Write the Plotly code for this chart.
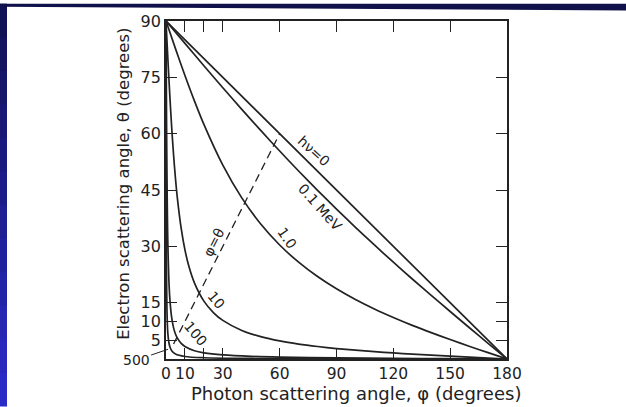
import plotly.graph_objects as go

# ---- data ----
phi_0 = [0, 180]
theta_0 = [90, 0]

phi_01 = [0, 10, 20, 30, 40, 50, 60, 70, 80, 90, 100, 110, 120, 130, 140, 150, 160, 170, 180]
theta_01 = [90, 84.03, 78.09, 72.24, 66.48, 60.86, 55.38, 50.06, 44.91, 39.91, 35.06, 30.36,
            25.78, 21.30, 16.93, 12.65, 8.39, 4.18, 0]

phi_1 = [0, 5, 10, 15, 20, 30, 40, 50, 60, 70, 80, 90, 100, 110, 120, 130, 140, 150, 160, 170, 180]
theta_1 = [90, 82.64, 75.50, 68.73, 62.46, 51.61, 42.90, 35.95, 30.36, 25.78, 21.95, 18.69,
           15.84, 13.32, 11.05, 8.96, 7.02, 5.18, 3.41, 1.69, 0]

phi_10 = [0, 0.5, 1, 2, 3, 4, 5, 6, 8, 10, 12, 15, 20, 25, 30, 40, 50, 60, 70, 80, 90, 100,
          110, 120, 130, 140, 150, 160, 170, 180]
theta_10 = [90, 84.87, 79.82, 70.25, 61.69, 54.31, 48.07, 42.85, 34.82, 29.06, 24.82, 20.27,
            15.41, 12.37, 10.28, 7.61, 5.95, 4.81, 3.97, 3.32, 2.78, 2.34, 1.95, 1.61, 1.30,
            1.01, 0.75, 0.49, 0.24, 0]

phi_100 = [0, 0.1, 0.2, 0.3, 0.5, 0.75, 1, 1.5, 2, 3, 4, 5, 6, 8, 10, 15, 20, 30, 45, 60, 90,
           120, 150, 180]
theta_100 = [90, 80.26, 71.05, 62.76, 49.36, 37.84, 30.22, 21.22, 16.24, 10.99, 8.28, 6.64,
             5.54, 4.16, 3.33, 2.21, 1.65, 1.09, 0.70, 0.50, 0.29, 0.17, 0.08, 0]

phi_500 = [0, 0.02, 0.05, 0.1, 0.2, 0.3, 0.5, 0.75, 1, 1.5, 2, 3, 5, 10, 20, 45, 90, 180]
theta_500 = [90, 80.30, 66.86, 49.47, 30.32, 21.30, 13.17, 8.87, 6.67, 4.46, 3.35, 2.23, 1.34,
             0.67, 0.33, 0.14, 0.06, 0]

phi_eq = [4, 60]
theta_eq = [4, 60]

x_ticks = [0, 10, 20, 30, 60, 90, 120, 150, 180]
x_labels = ["0", "10", "", "30", "60", "90", "120", "150", "180"]
y_ticks = [5, 10, 15, 30, 45, 60, 75, 90]
y_labels = ["5", "10", "15", "30", "45", "60", "75", "90"]

INK = "#222222"
FONT = "DejaVu Sans"

fig = go.Figure()
curves = [(phi_0, theta_0), (phi_01, theta_01), (phi_1, theta_1), (phi_10, theta_10),
          (phi_100, theta_100), (phi_500, theta_500)]
for px_, py_ in curves:
    fig.add_trace(go.Scatter(x=px_, y=py_, mode="lines",
                             line=dict(color=INK, width=1.7, shape="spline", smoothing=0.8),
                             hoverinfo="skip", showlegend=False))
fig.add_trace(go.Scatter(x=phi_eq, y=theta_eq, mode="lines",
                         line=dict(color=INK, width=1.3, dash="8px,5px"),
                         hoverinfo="skip", showlegend=False))

ann_font = dict(family=FONT, size=14, color=INK)
annotations = [
    dict(x=78, y=55.3, text="hν=0", textangle=42),
    dict(x=81.3, y=40.6, text="0.1 MeV", textangle=48),
    dict(x=63.9, y=32.2, text="1.0", textangle=55),
    dict(x=26.4, y=15.6, text="10", textangle=50),
    dict(x=15.8, y=6.6, text="100", textangle=50),
    dict(x=25.3, y=31.1, text="φ=θ", textangle=-63),
]
for a in annotations:
    fig.add_annotation(xref="x", yref="y", showarrow=False, font=ann_font,
                       xanchor="center", yanchor="middle", **a)

fig.add_annotation(xref="x", yref="y", x=1.1, y=2.6, text="500", showarrow=True,
                   arrowhead=0, arrowwidth=1, arrowcolor=INK, ax=-32, ay=11,
                   font=dict(family=FONT, size=14, color=INK))

# axis titles
fig.add_annotation(xref="paper", yref="paper", x=(124 - 166) / 341, y=(359 - 182) / 341.5,
                   xanchor="center", yanchor="middle",
                   text="Electron scattering angle, θ (degrees)", textangle=-90,
                   showarrow=False, font=dict(family=FONT, size=16.5, color=INK))
fig.add_annotation(xref="paper", yref="paper", x=(356 - 166) / 341, y=(359 - 394) / 341.5,
                   xanchor="center", yanchor="middle",
                   text="Photon scattering angle, φ (degrees)",
                   showarrow=False, font=dict(family=FONT, size=18, color=INK))

# blue border (slide frame)
def px2paper(xp, yp):
    return (xp - 166) / 341, (359 - yp) / 341.5

shapes = []
steps = 12
cols_top = (16, 16, 80)
cols_bot = (44, 44, 205)
for i in range(steps):
    y0p, y1p = 407 * i / steps, min(407, 407 * (i + 1) / steps + 1.5)
    f = (i + 0.5) / steps
    c = tuple(int(cols_top[k] + (cols_bot[k] - cols_top[k]) * f) for k in range(3))
    x0, y0 = px2paper(0, y0p)
    x1, y1 = px2paper(7, y1p)
    shapes.append(dict(type="rect", xref="paper", yref="paper", x0=x0, x1=x1, y0=y0, y1=y1,
                       fillcolor="rgb(%d,%d,%d)" % c, line=dict(width=0), layer="above"))
ax0, ay0 = px2paper(0, 0)
ax1, ay1 = px2paper(626, 0)
bx1, by1 = px2paper(626, 7)
bx0, by0 = px2paper(0, 3)
shapes.append(dict(type="path", xref="paper", yref="paper",
                   path="M %f %f L %f %f L %f %f L %f %f Z" % (ax0, ay0, ax1, ay1, bx1, by1, bx0, by0),
                   fillcolor="#10104a", line=dict(width=0), layer="above"))

fig.update_layout(
    width=626, height=407,
    margin=dict(l=166, r=119, t=17, b=48),
    paper_bgcolor="white", plot_bgcolor="white",
    shapes=shapes,
    xaxis=dict(range=[0, 180], tickvals=x_ticks, ticktext=x_labels, ticks="inside", ticklen=11,
               tickwidth=1.3, tickcolor=INK, showline=True, linecolor=INK, linewidth=1.7,
               mirror="ticks", showgrid=False, zeroline=False,
               tickfont=dict(family=FONT, size=15.5, color=INK)),
    yaxis=dict(range=[0, 90], tickvals=y_ticks, ticktext=y_labels, ticks="inside", ticklen=11,
               tickwidth=1.3, tickcolor=INK, showline=True, linecolor=INK, linewidth=1.7,
               mirror="ticks", showgrid=False, zeroline=False,
               tickfont=dict(family=FONT, size=16, color=INK)),
)

fig.write_html("out.html")
